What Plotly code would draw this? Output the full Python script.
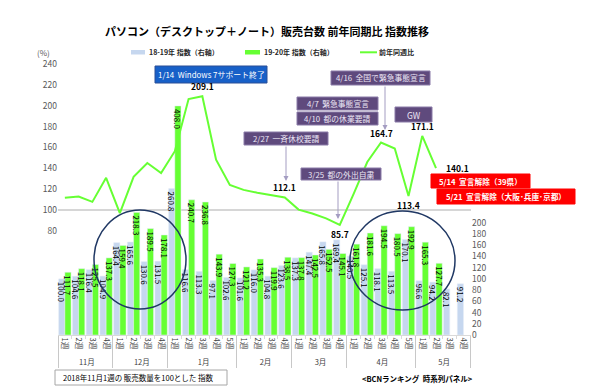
import plotly.graph_objects as go

# ---------------- data ----------------
months = ["11月"] * 4 + ["12月"] * 4 + ["1月"] * 5 + ["2月"] * 4 + ["3月"] * 4 + ["4月"] * 5 + ["5月"] * 4
weeks = ["1週", "2週", "3週", "4週",
         "1週", "2週", "3週", "4週",
         "1週", "2週", "3週", "4週", "5週",
         "1週", "2週", "3週", "4週",
         "1週", "2週", "3週", "4週",
         "1週", "2週", "3週", "4週", "5週",
         "1週", "2週", "3週", "4週"]

idx_1819 = [100.0, 104.6, 116.4, 104.9,
            164.4, 165.6, 130.6, 131.5,
            260.8, 116.6, 113.3, 97.1, 102.6,
            101.6, 116.0, 104.8, 123.6,
            137.3, 147.4, 165.8, 169.4,
            140.5, 125.1, 118.1, 113.5, 170.1,
            96.6, 94.2, 82.1, 91.2]
idx_1920 = [111.7, 118.1, 125.5, 137.3,
            159.4, 218.3, 189.5, 178.1,
            408.0, 240.7, 236.8, 143.9, 127.3,
            121.2, 135.3, 119.9, 138.5,
            137.8, 142.5, 152.5, 145.1,
            161.8, 181.6, 194.5, 180.5, 192.9,
            165.3, 127.7, None, None]
yoy = [111.7, 112.9, 107.8, 130.9,
       97.0, 131.8, 145.1, 135.4,
       156.4, 206.4, 209.1, 148.2, 124.1,
       119.3, 116.6, 114.4, 112.1,
       100.4, 96.7, 92.0, 85.7,
       115.2, 146.0, 164.7, 159.0, 113.4,
       171.1, 140.1, None, None]

left_ticks = [80, 100, 120, 140, 160, 180, 200, 220, 240]
right_ticks = [0, 20, 40, 60, 80, 100, 120, 140, 160, 180, 200]

# labelled points on the YoY line: (index, placement)
yoy_labels = [(10, "above"), (16, "above"), (20, "below"), (23, "above"),
              (25, "below"), (26, "above"), (27, "right")]

FONT = "Noto Sans CJK JP, Noto Sans, sans-serif"
BLUE = "#c6d7ef"
GREEN = "#66ff33"

W, H = 600, 389
L, R, T, B = 50, 463, 46, 327


def fx(px):
    return (px - L) / (R - L)


def fy(py):
    return (B - py) / (B - T)


fig = go.Figure()
x_mc = [months, weeks]

fig.add_trace(go.Bar(
    x=x_mc, y=idx_1819, name="18-19年 指数（右軸）", marker_color=BLUE,
    text=[f"{v:.1f}" if v is not None else "" for v in idx_1819],
    textposition="inside", insidetextanchor="end", textangle=90,
    textfont=dict(size=8, color="#000000", family=FONT),
    constraintext="none", cliponaxis=False, yaxis="y",
))
fig.add_trace(go.Bar(
    x=x_mc, y=idx_1920, name="19-20年 指数（右軸）", marker_color=GREEN,
    text=[f"{v:.1f}" if v is not None else "" for v in idx_1920],
    textposition="inside", insidetextanchor="end", textangle=90,
    textfont=dict(size=8, color="#000000", family=FONT),
    constraintext="none", cliponaxis=False, yaxis="y",
))
fig.add_trace(go.Scatter(
    x=x_mc, y=yoy, name="前年同週比", mode="lines",
    line=dict(color=GREEN, width=2), yaxis="y2", connectgaps=False,
))

shapes = []
annotations = []

# 100% reference line
shapes.append(dict(type="line", xref="paper", yref="y2", x0=0, x1=1, y0=100, y1=100,
                   line=dict(color="#c9c9c9", width=1.5), layer="below"))

# ellipses
for (x0, x1, y0, y1) in [(86, 178, 202, 301), (342, 447, 203, 302)]:
    shapes.append(dict(type="circle", xref="paper", yref="paper",
                       x0=fx(x0), x1=fx(x1), y0=fy(y1), y1=fy(y0),
                       line=dict(color="#203864", width=1.5)))


def box(x0, x1, y0, y1, text, fill, border, tcolor, size=7.8, bold=False):
    shapes.append(dict(type="rect", xref="paper", yref="paper",
                       x0=fx(x0), x1=fx(x1), y0=fy(y1), y1=fy(y0),
                       fillcolor=fill, line=dict(color=border, width=1)))
    t = f"<b>{text}</b>" if bold else text
    annotations.append(dict(xref="paper", yref="paper", x=fx((x0 + x1) / 2), y=fy((y0 + y1) / 2),
                            text=t, showarrow=False, xanchor="center", yanchor="middle",
                            font=dict(size=size, color=tcolor, family=FONT)))


PURP = "#5f4a7d"
PURP_B = "#8a7aa8"
PTXT = "#ece6f5"
box(147, 259, 58, 75, "1/14  Windows 7サポート終了", "#1760c8", "#2a4f96", "#ffffff", 7.9)
box(323, 422, 63, 77, "4/16  全国で緊急事態宣言", PURP, PURP_B, PTXT, 7.8)
box(289, 370, 89, 102, "4/7  緊急事態宣言", PURP, PURP_B, PTXT, 7.8)
box(289, 370, 104, 117, "4/10  都の休業要請", PURP, PURP_B, PTXT, 7.8)
box(387, 424, 99, 114, "GW", PURP, PURP_B, PTXT, 8.5)
box(236, 320, 124, 137, "2/27  一斉休校要請", PURP, PURP_B, PTXT, 7.8)
box(293, 373, 160, 172, "3/25  都の外出自粛", PURP, PURP_B, PTXT, 7.8)
box(423, 522, 166, 180, "5/14  宣言解除（39県）", "#ff0000", "#ff0000", "#ffffff", 7.7, bold=True)
box(429, 567, 181, 196, "5/21  宣言解除（大阪･兵庫･京都）", "#ff0000", "#ff0000", "#ffffff", 7.7, bold=True)

# arrows from the callouts
for (x, ytail, ytip) in [(278, 137, 173), (330, 172, 211), (377, 77, 122)]:
    annotations.append(dict(xref="paper", yref="paper", x=fx(x), y=fy(ytip),
                            ax=0, ay=-(ytip - ytail), text="", showarrow=True,
                            arrowhead=2, arrowsize=1, arrowwidth=1, arrowcolor="#a49dc2"))

# yoy line value labels
for i, pos in yoy_labels:
    v = yoy[i]
    a = dict(xref="x", yref="y2", x=i, y=v, text=f"<b>{v:.1f}</b>", showarrow=False,
             font=dict(size=8.5, color="#000000", family=FONT))
    if pos == "above":
        a.update(yanchor="bottom", xanchor="center", yshift=2)
    elif pos == "below":
        a.update(yanchor="top", xanchor="center", yshift=-1)
    else:
        a.update(yanchor="middle", xanchor="left", xshift=8)
    annotations.append(a)

# legend (drawn manually)
shapes.append(dict(type="rect", xref="paper", yref="paper", x0=fx(123), x1=fx(137),
                   y0=fy(46.5), y1=fy(42), fillcolor=BLUE, line=dict(width=0)))
shapes.append(dict(type="rect", xref="paper", yref="paper", x0=fx(237), x1=fx(252),
                   y0=fy(46.5), y1=fy(42), fillcolor=GREEN, line=dict(width=0)))
shapes.append(dict(type="line", xref="paper", yref="paper", x0=fx(352), x1=fx(369),
                   y0=fy(44.3), y1=fy(44.3), line=dict(color=GREEN, width=2)))
for (x, txt) in [(139, "18-19年 指数（右軸）"), (254, "19-20年 指数（右軸）"), (369, "前年同週比")]:
    annotations.append(dict(xref="paper", yref="paper", x=fx(x), y=fy(44.3), text=f"<b>{txt}</b>",
                            showarrow=False, xanchor="left", yanchor="middle",
                            font=dict(size=7, color="#262626", family=FONT)))

# title
annotations.append(dict(xref="paper", yref="paper", x=fx(259), y=fy(23),
                        text="<b>パソコン（デスクトップ＋ノート）販売台数 前年同期比 指数推移</b>",
                        showarrow=False, xanchor="center", yanchor="middle",
                        font=dict(size=11, color="#000000", family=FONT)))
# (%) label
annotations.append(dict(xref="paper", yref="paper", x=fx(44), y=fy(44), text="(%)",
                        showarrow=False, xanchor="right", yanchor="middle",
                        font=dict(size=8, color="#595959", family=FONT)))

# footnote box and source
shapes.append(dict(type="rect", xref="paper", yref="paper", x0=fx(47), x1=fx(219),
                   y0=fy(377), y1=fy(362), fillcolor="rgba(0,0,0,0)", line=dict(color="#a6a6a6", width=1)))
annotations.append(dict(xref="paper", yref="paper", x=fx(53), y=fy(369.5),
                        text="2018年11月1週の 販売数量を100とした 指数", showarrow=False,
                        xanchor="left", yanchor="middle",
                        font=dict(size=7.5, color="#000000", family=FONT)))
annotations.append(dict(xref="paper", yref="paper", x=fx(352), y=fy(370),
                        text="<b>&lt;BCNランキング  時系列パネル&gt;</b>", showarrow=False,
                        xanchor="left", yanchor="middle",
                        font=dict(size=7.5, color="#000000", family=FONT)))

fig.update_layout(
    width=W, height=H,
    margin=dict(l=L, r=W - R, t=T, b=H - B, pad=0),
    paper_bgcolor="#ffffff", plot_bgcolor="#ffffff",
    barmode="group", bargap=0.1, bargroupgap=0.0,
    showlegend=False,
    font=dict(family=FONT, size=8, color="#404040"),
    uniformtext=dict(minsize=8, mode="show"),
    xaxis=dict(type="multicategory", tickangle=90, tickfont=dict(size=7.5, color="#404040"),
               showdividers=True, dividercolor="#c8c8c8", dividerwidth=1,
               showline=True, linecolor="#d9d9d9", linewidth=1,
               ticks="outside", ticklen=3, tickcolor="#d9d9d9", showgrid=False),
    yaxis=dict(side="right", range=[0, 500.4], tickvals=right_ticks, showgrid=False,
               zeroline=False, showline=False, tickfont=dict(size=8.5, color="#595959")),
    yaxis2=dict(side="left", overlaying="y", range=[-19.85, 249.6], tickvals=left_ticks,
                showgrid=False, zeroline=False, showline=False,
                tickfont=dict(size=8.5, color="#595959")),
    shapes=shapes, annotations=annotations,
)

fig.write_html("out.html")
